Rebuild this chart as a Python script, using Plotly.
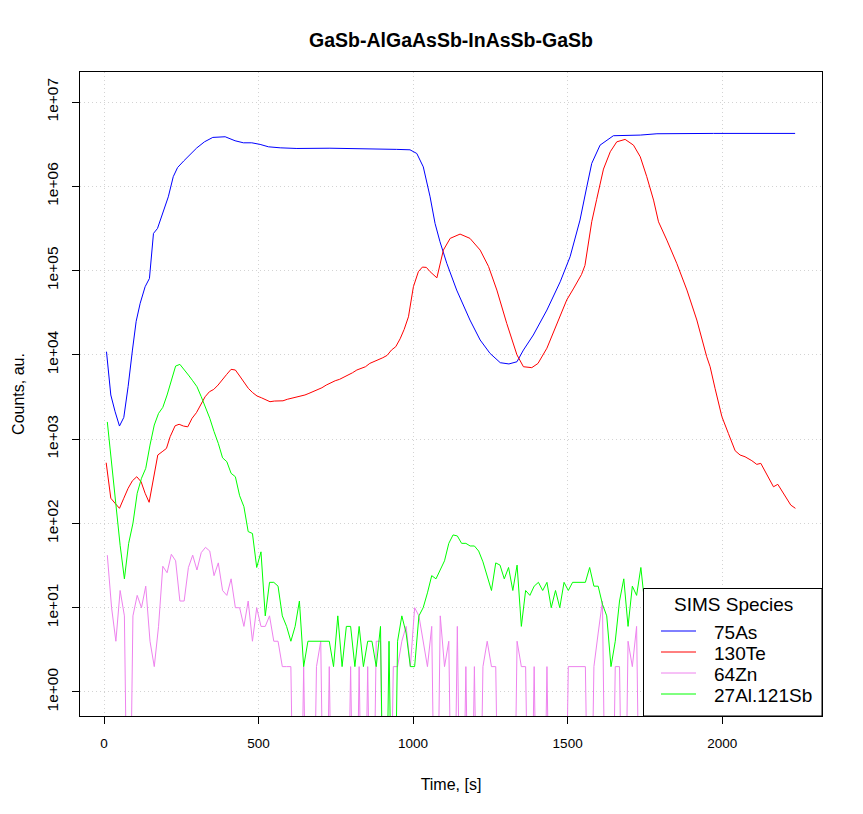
import plotly.graph_objects as go

# ---------------- data ----------------
# 75As (blue)
as_time = [8, 22, 36, 50, 64, 78, 92, 104, 117, 133, 147, 160, 173, 187, 197, 208, 224, 238, 258, 278,
           300, 325, 352, 392, 424, 451, 478, 505, 532, 570, 624, 731, 839, 947, 990, 1012, 1033, 1055,
           1071, 1087, 1109, 1141, 1184, 1217, 1249, 1282, 1310, 1336, 1357, 1389, 1433, 1476, 1508,
           1540, 1562, 1578, 1605, 1648, 1735, 1789, 1972, 2100, 2236]
as_counts = [10900, 3340, 2110, 1430, 1810, 4200, 11400, 25000, 40900, 64300, 80700, 276000, 316000,
             455000, 571000, 750000, 1.30e6, 1.67e6, 2.0e6, 2.34e6, 2.85e6, 3.37e6, 3.8e6, 3.87e6,
             3.47e6, 3.28e6, 3.28e6, 3.14e6, 2.94e6, 2.86e6, 2.81e6, 2.83e6, 2.81e6, 2.74e6, 2.71e6,
             2.45e6, 1.70e6, 751000, 363000, 220000, 122000, 58700, 25900, 15000, 10400, 8070, 7800,
             8280, 11400, 17200, 34000, 73600, 146000, 397000, 986000, 1.87e6, 3.08e6, 3.98e6, 4.05e6,
             4.2e6, 4.24e6, 4.25e6, 4.24e6]

# 130Te (red)
te_time = [7, 22, 36, 50, 64, 78, 92, 106, 120, 133, 146, 160, 174, 188, 202, 214, 230, 243, 257, 271,
           285, 299, 313, 327, 341, 355, 369, 383, 397, 411, 425, 439, 453, 467, 481, 495, 509, 523,
           537, 551, 565, 579, 593, 607, 621, 635, 650, 663, 677, 692, 705, 719, 734, 748, 762, 776,
           790, 804, 818, 832, 846, 860, 874, 888, 902, 916, 930, 944, 958, 971, 985, 1001, 1017,
           1030, 1043, 1055, 1077, 1098, 1120, 1152, 1184, 1217, 1244, 1271, 1303, 1336, 1357, 1384,
           1404, 1433, 1465, 1497, 1520, 1545, 1556, 1567, 1578, 1594, 1605, 1616, 1638, 1659, 1686,
           1713, 1735, 1756, 1778, 1794, 1821, 1853, 1886, 1918, 1950, 1961, 1977, 1999, 2020, 2042,
           2058, 2074, 2096, 2112, 2125, 2145, 2166, 2180, 2198, 2222, 2237]
te_counts = [525, 199, 173, 151, 199, 261, 321, 358, 312, 228, 178, 358, 648, 708, 776, 1070, 1440,
             1500, 1430, 1400, 1770, 2060, 2540, 3180, 3650, 3890, 4380, 5120, 5870, 6730, 6610,
             5610, 4670, 4000, 3560, 3250, 3100, 2910, 2780, 2830, 2850, 2850, 2970, 3050, 3190,
             3270, 3340, 3490, 3650, 3820, 4070, 4380, 4670, 4930, 5120, 5410, 5760, 6130, 6610,
             6920, 7230, 7920, 8280, 8670, 9240, 9860, 11400, 12500, 15500, 20000, 28300, 64300,
             96900, 110000, 109000, 97000, 82000, 175000, 241000, 271000, 241000, 175000, 112000,
             58700, 23600, 10000, 7230, 7050, 7900, 12000, 23600, 44700, 62000, 90000, 115000,
             200000, 380000, 700000, 1.1e6, 1.6e6, 2.57e6, 3.37e6, 3.6e6, 3.08e6, 2.24e6, 1.30e6,
             686000, 379000, 230000, 122000, 58700, 25900, 9500, 7230, 4000, 1850, 1170, 728, 648,
             618, 555, 502, 516, 375, 272, 291, 228, 165, 151]

# 64Zn (violet) and 27Al.121Sb (green) share a regular sampling grid
grid_start = 10.7
grid_step = 13.81
zn_counts = [42, 10, 4, 16, 8, 0, 8, 14, 10, 18, 4, 2, 6, 31, 26, 43, 36, 12, 12, 30, 42, 28, 45, 52,
             47, 24, 34, 16, 14, 22, 10, 10, 6, 12, 4, 10, 6, 6, 8, 4, 4, 2, 2, 2,
             0, 0, 2, 0, 0, 2, 4, 0, 2, 0,
             0, 0, 0, 2, 0, 2, 0, 2, 0, 4,
             4, 0, 0, 2, 2, 4, 6, 2, 10, 8,
             4, 2, 6, 0, 8, 2, 4, 0, 6, 0,
             2, 0, 2, 0, 2, 4, 2, 2, 0, 0,
             0, 0, 4, 2, 2, 0, 2, 0, 0, 2,
             0, 0, 0, 0, 2, 2, 2, 2, 2, 0,
             2, 5, 12, 0, 0, 2, 2, 0, 4, 2,
             6, 0, 0]
alsb_counts = [1600, 500, 150, 55, 22, 58, 100, 228, 343, 450, 850, 1470, 2020, 2380, 3340, 5030,
               7360, 7710, 6730, 5760, 4930, 4190, 3190, 2420, 1770, 1230, 890, 600, 540, 393, 358,
               213, 158, 80, 76, 30, 46,
               8, 20, 20, 18, 8, 6, 4, 6, 12, 2, 4, 4, 4, 4, 4, 4, 2, 8, 2, 6, 6, 2, 6, 2, 4, 4, 2, 6,
               0, 4, 0, 4,
               8, 5, 2, 2, 8, 10, 15, 24, 22, 28, 36, 58, 73, 71, 58, 58, 54, 54, 47, 35, 24, 16, 34,
               32, 22, 30, 16, 32, 6, 16, 14,
               18, 20, 16, 20, 10, 16, 10, 20, 16, 20, 20, 20, 20, 30, 18, 18, 11, 8, 2, 4, 12, 22, 6,
               18, 14, 30,
               10]
grid_time = [grid_start + grid_step * i for i in range(len(zn_counts))]

series_names = ["75As", "130Te", "64Zn", "27Al.121Sb"]
series_colors = ["#0000FF", "#FF0000", "#EE82EE", "#00FF00"]
legend_title = "SIMS Species"

x_ticks = [0, 500, 1000, 1500, 2000]
y_ticks = [1, 10, 100, 1000, 1e4, 1e5, 1e6, 1e7]
y_tick_text = ["1e+00", "1e+01", "1e+02", "1e+03", "1e+04", "1e+05", "1e+06", "1e+07"]

# zero counts fall off the bottom of a log axis (as in the original)
FLOOR = 1e-3
def on_log(vals):
    return [v if v > 0 else FLOOR for v in vals]

FONT = "Liberation Sans, Arial, Helvetica, sans-serif"
W, H = 863, 814
ML, MR, MT, MB = 80, 41, 72, 98
PW, PH = W - ML - MR, H - MT - MB

def px_x(px):  # page pixel -> paper x
    return (px - ML) / PW

def px_y(py):  # page pixel -> paper y
    return (H - MB - py) / PH

fig = go.Figure()
data = [(as_time, as_counts), (te_time, te_counts), (grid_time, zn_counts), (grid_time, alsb_counts)]
for (t, v), name, col in zip(data, series_names, series_colors):
    fig.add_trace(go.Scatter(x=t, y=on_log(v), mode="lines", name=name,
                             line=dict(color=col, width=1), showlegend=False))

axis_common = dict(showline=True, mirror=True, linecolor="black", linewidth=1,
                   ticks="outside", ticklen=7, tickcolor="black", tickwidth=1,
                   showgrid=True, gridcolor="#D3D3D3", griddash="1px,3px", gridwidth=1,
                   zeroline=False)

# ---- legend box in the style of base-R legend() (white box, bottom-right) ----
box_left, box_top = 643.5, 588.5
shapes = [dict(type="rect", xref="paper", yref="paper", x0=px_x(box_left), x1=1, y0=0,
               y1=px_y(box_top), fillcolor="white", line=dict(color="black", width=1),
               layer="above")]
annotations = [dict(text=legend_title, xref="paper", yref="paper", x=px_x(733), y=px_y(604),
                    xanchor="center", yanchor="middle", showarrow=False,
                    font=dict(family=FONT, size=19, color="black"))]
row_y = [631, 652, 673, 694]
for name, col, ry in zip(series_names, series_colors, row_y):
    shapes.append(dict(type="line", xref="paper", yref="paper", x0=px_x(661), x1=px_x(696),
                       y0=px_y(ry), y1=px_y(ry), line=dict(color=col, width=1), layer="above"))
    annotations.append(dict(text=name, xref="paper", yref="paper", x=px_x(712), y=px_y(ry + 1),
                            xanchor="left", yanchor="middle", showarrow=False,
                            font=dict(family=FONT, size=19, color="black")))

fig.update_layout(
    width=W, height=H,
    margin=dict(l=ML, r=MR, t=MT, b=MB),
    paper_bgcolor="white", plot_bgcolor="white",
    title=dict(text="<b>GaSb-AlGaAsSb-InAsSb-GaSb</b>", x=451 / W, xanchor="center",
               y=1 - 40 / H, yanchor="middle",
               font=dict(family=FONT, size=19.5, color="black")),
    xaxis=dict(range=[-77.7, 2323], tickvals=x_ticks, ticktext=[str(v) for v in x_ticks],
               title=dict(text="Time, [s]", standoff=28, font=dict(family=FONT, size=16, color="black")),
               ticklabelstandoff=8, tickfont=dict(family=FONT, size=13.5, color="black"),
               **axis_common),
    yaxis=dict(type="log", range=[-0.285, 7.356], tickvals=y_ticks, ticktext=y_tick_text,
               tickangle=-90,
               title=dict(text="Counts, au.", standoff=15, font=dict(family=FONT, size=16, color="black")),
               ticklabelstandoff=8, tickfont=dict(family=FONT, size=15.5, color="black"),
               **axis_common),
    shapes=shapes,
    annotations=annotations,
    showlegend=False,
)

fig.write_html("out.html")
